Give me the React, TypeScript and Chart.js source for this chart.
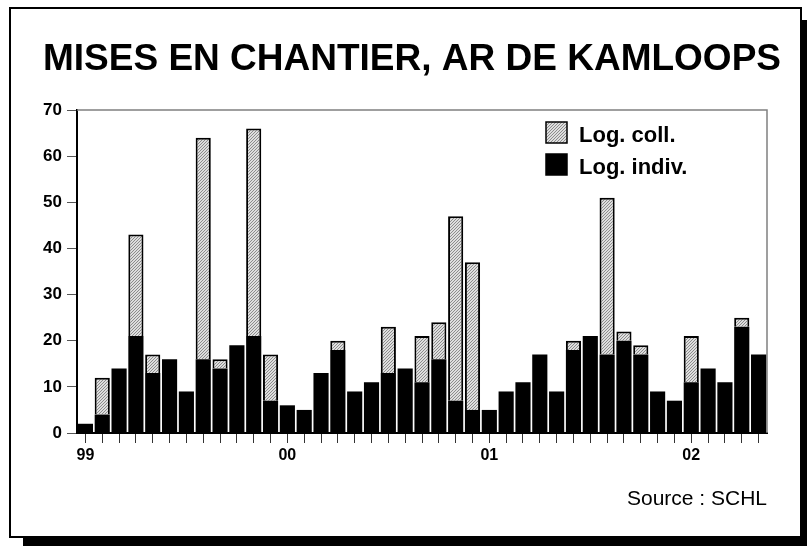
import React, { useEffect, useRef } from "react";
import { Chart, registerables } from "chart.js";

Chart.register(...registerables);

const months = [
  "1999-01","1999-02","1999-03","1999-04","1999-05","1999-06","1999-07","1999-08","1999-09","1999-10","1999-11","1999-12",
  "2000-01","2000-02","2000-03","2000-04","2000-05","2000-06","2000-07","2000-08","2000-09","2000-10","2000-11","2000-12",
  "2001-01","2001-02","2001-03","2001-04","2001-05","2001-06","2001-07","2001-08","2001-09","2001-10","2001-11","2001-12",
  "2002-01","2002-02","2002-03","2002-04","2002-05",
];

const logIndiv = [
  2, 4, 14, 21, 13, 16, 9, 16, 14, 19, 21, 7,
  6, 5, 13, 18, 9, 11, 13, 14, 11, 16, 7, 5,
  5, 9, 11, 17, 9, 18, 21, 17, 20, 17, 9, 7,
  11, 14, 11, 23, 17,
];

const logColl = [
  0, 8, 0, 22, 4, 0, 0, 48, 2, 0, 45, 10,
  0, 0, 0, 2, 0, 0, 10, 0, 10, 8, 40, 32,
  0, 0, 0, 0, 0, 2, 0, 34, 2, 2, 0, 0,
  10, 0, 0, 2, 0,
];

const yearTickIndex = [0, 12, 24, 36];
const yearTickLabels = ["99", "00", "01", "02"];

const seriesLabels = ["Log. indiv.", "Log. coll."];
const titleText = "MISES EN CHANTIER, AR DE KAMLOOPS";
const sourceText = "Source : SCHL";

const FONT = '"Liberation Sans", Arial, Helvetica, sans-serif';

function makeHatch(): CanvasPattern | string {
  const c = document.createElement("canvas");
  c.width = 3;
  c.height = 3;
  const g = c.getContext("2d");
  if (!g) return "#c4c4c4";
  g.fillStyle = "#dedede";
  g.fillRect(0, 0, 3, 3);
  g.fillStyle = "#8c8c8c";
  // diagonal "/" pixels
  g.fillRect(2, 0, 1, 1);
  g.fillRect(1, 1, 1, 1);
  g.fillRect(0, 2, 1, 1);
  return g.createPattern(c, "repeat") || "#c4c4c4";
}

const decorPlugin = {
  id: "decor",
  beforeDraw(chart: any) {
    const ctx = chart.ctx;
    ctx.save();
    ctx.fillStyle = "#ffffff";
    ctx.fillRect(0, 0, chart.width, chart.height);
    ctx.strokeStyle = "#000";
    ctx.lineWidth = 2;
    ctx.strokeRect(10, 8, 791, 529);
    ctx.fillStyle = "#000";
    ctx.fillRect(802, 20, 5, 526);
    ctx.fillRect(23, 538, 784, 8);
    ctx.font = `bold 37px ${FONT}`;
    ctx.textAlign = "center";
    ctx.textBaseline = "alphabetic";
    ctx.fillText(titleText, 412, 70);
    ctx.font = `21px ${FONT}`;
    ctx.textAlign = "right";
    ctx.fillText(sourceText, 767, 505);
    ctx.restore();
  },
  beforeDatasetsDraw(chart: any) {
    const ctx = chart.ctx;
    const a = chart.chartArea;
    ctx.save();
    ctx.strokeStyle = "#808080";
    ctx.lineWidth = 1.5;
    ctx.beginPath();
    ctx.moveTo(a.left, a.top);
    ctx.lineTo(a.right, a.top);
    ctx.lineTo(a.right, a.bottom);
    ctx.stroke();
    ctx.restore();
  },
  afterDraw(chart: any) {
    const ctx = chart.ctx;
    ctx.save();
    const ds = chart.data.datasets;
    const order = [1, 0];
    const boxX = 546;
    const boxTops = [122, 154];
    const baselines = [142, 174];
    order.forEach((di, i) => {
      const d = ds[di];
      ctx.fillStyle = d.backgroundColor;
      ctx.fillRect(boxX, boxTops[i], 21, 21);
      ctx.strokeStyle = "#000";
      ctx.lineWidth = 1.5;
      ctx.strokeRect(boxX, boxTops[i], 21, 21);
      ctx.fillStyle = "#000";
      ctx.font = `bold 22px ${FONT}`;
      ctx.textAlign = "left";
      ctx.textBaseline = "alphabetic";
      ctx.fillText(d.label, 579, baselines[i]);
    });
    ctx.restore();
  },
};

export default function App() {
  const ref = useRef<HTMLCanvasElement | null>(null);

  useEffect(() => {
    if (!ref.current) return;
    const hatch = makeHatch();
    const chart = new Chart(ref.current, {
      type: "bar",
      data: {
        labels: months,
        datasets: [
          {
            label: seriesLabels[0],
            data: logIndiv,
            backgroundColor: "#000000",
            borderColor: "#000000",
            borderWidth: 0,
          },
          {
            label: seriesLabels[1],
            data: logColl,
            backgroundColor: hatch as any,
            borderColor: "#000000",
            borderWidth: 2,
            borderSkipped: "bottom",
          },
        ],
      },
      options: {
        responsive: false,
        animation: false,
        devicePixelRatio: 1,
        datasets: {
          bar: { categoryPercentage: 1, barPercentage: 0.9 },
        },
        layout: { padding: { left: 0, top: 110, right: 40, bottom: 0 } },
        plugins: {
          legend: { display: false },
          title: { display: false },
          tooltip: { enabled: false },
        },
        scales: {
          x: {
            type: "category",
            stacked: true,
            offset: true,
            afterFit: (s: any) => {
              s.height = 113;
            },
            grid: {
              offset: false,
              drawOnChartArea: false,
              drawTicks: true,
              tickLength: 10,
              color: "#333333",
              lineWidth: 1,
            },
            border: { display: true, color: "#000000", width: 2 },
            ticks: {
              autoSkip: false,
              maxRotation: 0,
              minRotation: 0,
              padding: 3,
              color: "#000000",
              font: { family: FONT, size: 16, weight: "bold" },
              callback: (_v: any, idx: number) => {
                const k = yearTickIndex.indexOf(idx);
                return k >= 0 ? yearTickLabels[k] : "";
              },
            },
          },
          y: {
            stacked: true,
            min: 0,
            max: 70,
            afterFit: (s: any) => {
              s.width = 77;
            },
            grid: {
              drawOnChartArea: false,
              drawTicks: true,
              tickLength: 10,
              color: "#555555",
              lineWidth: 1,
            },
            border: { display: true, color: "#000000", width: 2 },
            ticks: {
              stepSize: 10,
              padding: 5,
              color: "#000000",
              font: { family: FONT, size: 17, weight: "bold" },
            },
          },
        },
      },
      plugins: [decorPlugin],
    });
    return () => chart.destroy();
  }, []);

  return (
    <div style={{ position: "fixed", left: 0, top: 0, width: 807, height: 546, background: "#fff" }}>
      <canvas ref={ref} width={807} height={546} style={{ display: "block", width: 807, height: 546 }} />
    </div>
  );
}
